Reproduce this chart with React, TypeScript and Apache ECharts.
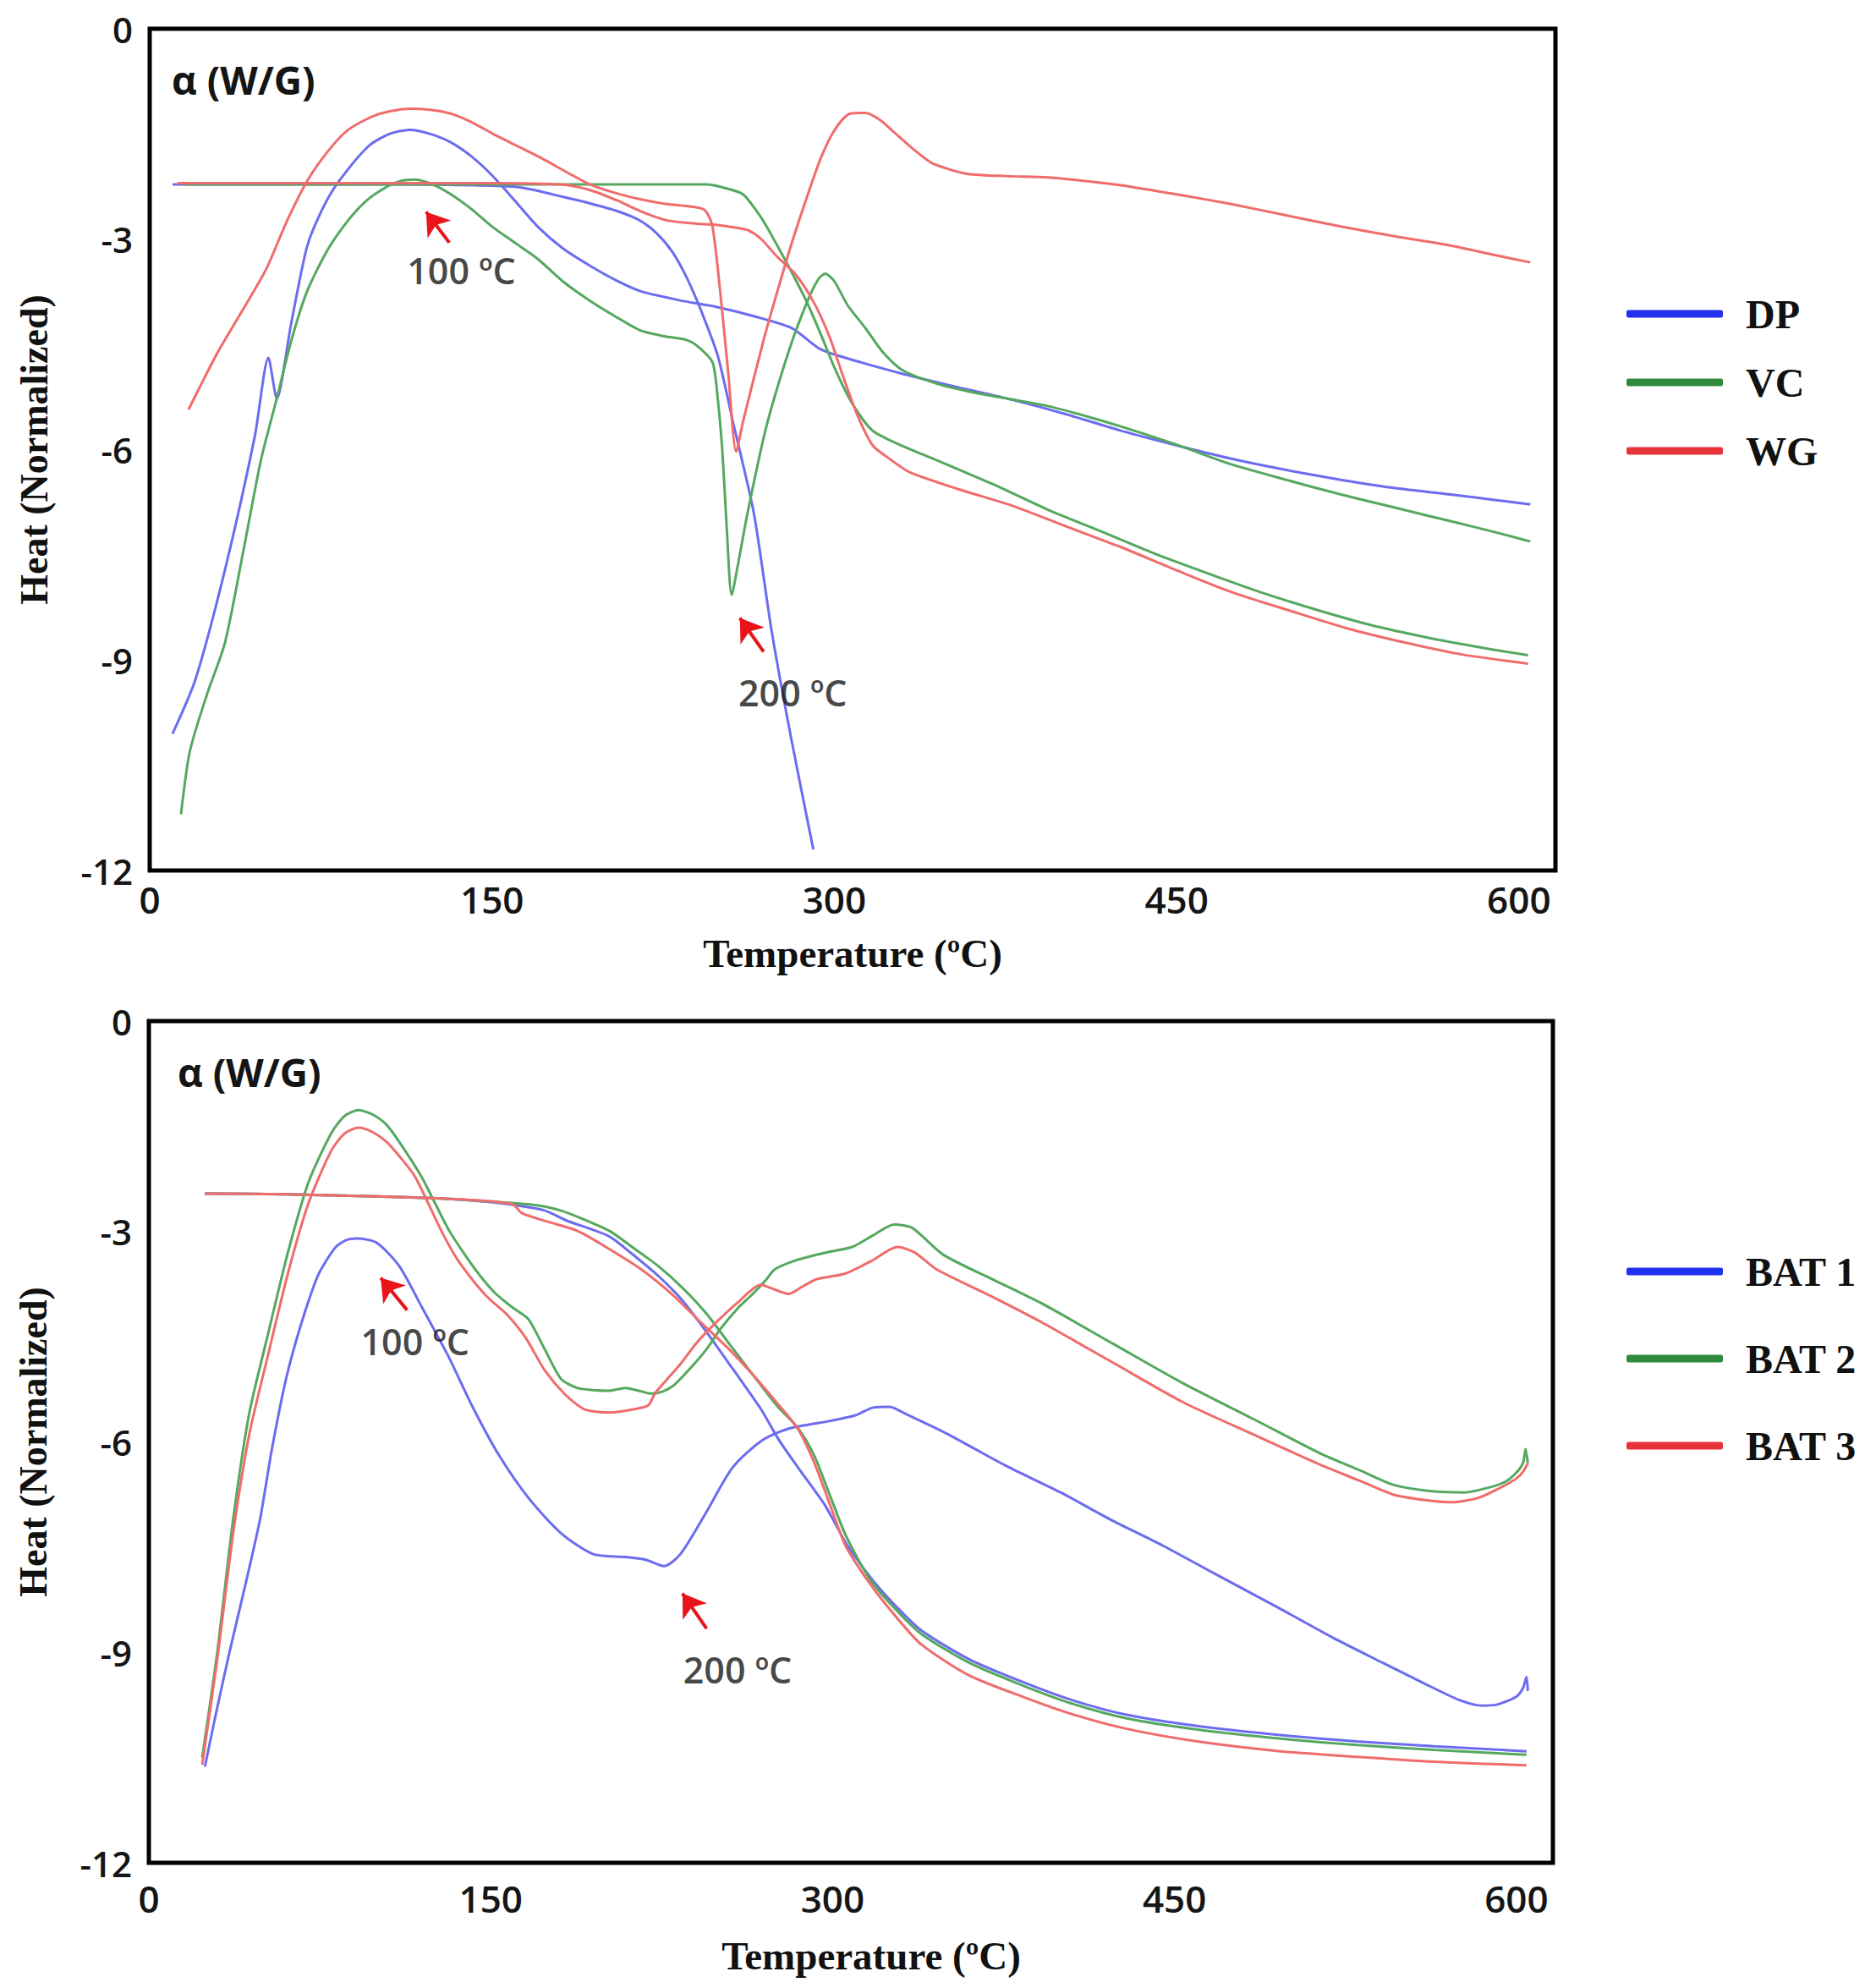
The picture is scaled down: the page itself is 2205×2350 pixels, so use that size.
import React, { useRef, useEffect } from 'react';
import * as echarts from 'echarts';

// ---- Top panel: DP / VC / WG (two traces each) ----
const LEGEND_TOP = ['DP', 'VC', 'WG'];

const DP_PEAK: number[][] = [
  [10, -10.05], [20, -9.28], [33, -7.71], [46, -5.82], [52, -4.69], [55.7, -5.27], [62, -4.2],
  [69, -3.1], [76, -2.55], [83, -2.17], [96, -1.67], [105, -1.5], [114, -1.44], [123, -1.5],
  [132, -1.62], [141, -1.82], [150, -2.09], [160, -2.45], [170, -2.82], [181, -3.13], [193, -3.38],
  [204, -3.58], [215, -3.74], [232, -3.87], [249, -3.97], [265, -4.1], [281.5, -4.27], [294, -4.57],
  [310, -4.74], [330, -4.92], [354, -5.11], [378, -5.29], [402, -5.5], [425.6, -5.73], [450, -5.94],
  [474, -6.13], [498, -6.29], [522, -6.43], [546, -6.55], [570, -6.64], [590, -6.72], [605, -6.78],
];
const DP_FLAT: number[][] = [
  [10, -2.22], [60, -2.22], [110, -2.22], [140, -2.23], [159, -2.25], [170, -2.31], [181.5, -2.4],
  [193, -2.49], [204, -2.59], [214, -2.72], [222, -2.91], [229, -3.18], [235.5, -3.56], [242, -4.05],
  [249, -4.67], [255.7, -5.62], [264.7, -6.9], [272.6, -8.6], [281, -10.1], [290.8, -11.7],
];
const VC_PEAK: number[][] = [
  [13.7, -11.2], [17.6, -10.3], [25, -9.5], [33, -8.75], [41, -7.45], [48.8, -6.14], [55.7, -5.27],
  [62, -4.45], [69, -3.74], [78, -3.15], [87, -2.73], [95, -2.45], [103, -2.27], [110, -2.17],
  [116, -2.15], [124, -2.22], [132, -2.36], [141, -2.57], [150, -2.82], [160, -3.05], [170, -3.28],
  [181, -3.6], [193, -3.88], [204, -4.1], [215, -4.3], [225, -4.38], [235.5, -4.44], [241, -4.55],
  [246.7, -4.76], [249, -5.3], [251, -6.05], [253, -7.2], [255, -8.07], [258, -7.6], [262, -6.9],
  [270, -5.7], [280, -4.6], [288, -3.9], [293, -3.57], [296, -3.49], [300, -3.6], [306, -3.95],
  [313.7, -4.27], [321, -4.6], [330, -4.87], [345, -5.06], [361.7, -5.19], [377, -5.28],
  [393.8, -5.38], [410, -5.52], [425.6, -5.67], [450, -5.93], [474, -6.21], [498, -6.43],
  [522, -6.64], [546, -6.83], [570, -7.02], [590, -7.18], [605, -7.31],
];
const VC_FLAT: number[][] = [
  [15, -2.22], [60, -2.22], [110, -2.22], [160, -2.22], [200, -2.22], [230, -2.22], [244, -2.22],
  [252, -2.27], [260, -2.36], [266, -2.6], [270, -2.8], [275, -3.09], [281, -3.45], [288, -3.9],
  [294, -4.35], [300.6, -4.87], [308, -5.35], [316.8, -5.73], [330, -5.95], [345.6, -6.16],
  [370, -6.5], [393.8, -6.86], [418, -7.18], [441.8, -7.5], [465, -7.78], [486.6, -8.03],
  [510, -8.27], [535, -8.5], [560, -8.68], [585, -8.83], [604, -8.93],
];
const WG_PEAK: number[][] = [
  [17, -5.43], [23, -5.04], [30, -4.6], [40, -4.05], [51, -3.43], [60, -2.75], [69, -2.17],
  [78, -1.75], [87, -1.44], [100, -1.22], [114, -1.14], [124, -1.16], [132, -1.21], [141, -1.33],
  [150, -1.49], [161, -1.67], [172, -1.85], [183, -2.05], [193, -2.22], [205, -2.35], [215, -2.43],
  [226.5, -2.5], [236, -2.53], [243, -2.58], [246.5, -2.8], [250, -3.75], [253.5, -4.9],
  [257, -6.03], [260, -5.6], [269, -4.44], [275, -3.75], [281.5, -3.04], [288, -2.4], [294, -1.85],
  [300, -1.45], [307, -1.21], [313.7, -1.2], [320, -1.3], [326, -1.47], [334, -1.7], [342.5, -1.91],
  [350, -2.0], [358.6, -2.07], [375, -2.1], [393.8, -2.12], [410, -2.17], [425.6, -2.23],
  [450, -2.36], [474, -2.5], [498, -2.66], [522, -2.82], [546, -2.96], [570, -3.09], [590, -3.23],
  [605, -3.33],
];
const WG_FLAT: number[][] = [
  [12, -2.2], [60, -2.2], [110, -2.2], [150, -2.2], [180, -2.22], [193, -2.3], [205, -2.45],
  [215, -2.6], [226.5, -2.73], [240, -2.78], [249.5, -2.8], [256, -2.83], [262, -2.87], [268, -3.0],
  [275, -3.25], [283, -3.5], [291, -3.9], [298, -4.4], [304, -4.97], [310, -5.5], [316.8, -5.94],
  [325, -6.15], [332.9, -6.32], [355, -6.57], [378, -6.8], [402, -7.1], [425.6, -7.39], [450, -7.72],
  [474, -8.03], [500, -8.3], [525, -8.55], [550, -8.75], [575, -8.92], [604, -9.05],
];

// ---- Bottom panel: BAT 1 / BAT 2 / BAT 3 ----
const LEGEND_BOTTOM = ['BAT 1', 'BAT 2', 'BAT 3'];

const BAT1_PEAK: number[][] = [
  [24.6, -10.63], [27, -10.25], [29, -9.94], [35, -9.05], [42.6, -8.0], [48.8, -7.1], [54, -6.1],
  [60.2, -5.1], [67, -4.3], [74.3, -3.62], [81.5, -3.24], [86, -3.13], [91.4, -3.1], [99.9, -3.16],
  [109.8, -3.49], [119.8, -4.08], [131.1, -4.76], [142.5, -5.53], [153.8, -6.2], [166.6, -6.8],
  [180.8, -7.3], [195, -7.6], [209, -7.64], [218, -7.68], [226, -7.77], [233.2, -7.6], [244.6, -7.0],
  [256, -6.37], [268.5, -5.99], [280.7, -5.81], [299, -5.7], [310, -5.62], [317.8, -5.51],
  [325, -5.5], [332, -5.6], [350, -5.88], [376, -6.34], [400, -6.72], [422.7, -7.12], [445, -7.48],
  [466, -7.85], [496.5, -8.38], [520, -8.8], [541.4, -9.15], [560, -9.45], [575, -9.68], [585, -9.76],
  [592, -9.74], [600, -9.63], [603, -9.5], [604.4, -9.35], [605, -9.55],
];
const BAT1_FLAT: number[][] = [
  [24.5, -2.46], [60, -2.47], [100, -2.5], [128.6, -2.53], [150, -2.58], [161.7, -2.63], [173.6, -2.7],
  [183, -2.84], [202, -3.07], [212, -3.32], [223.4, -3.63], [234, -3.98], [244.6, -4.43], [256, -4.95],
  [268.5, -5.53], [276, -5.95], [284.7, -6.36], [296.6, -6.9], [306, -7.45], [316.8, -7.94],
  [328, -8.35], [339, -8.69], [360, -9.1], [384, -9.43], [405, -9.68], [429, -9.89], [460, -10.05],
  [496.5, -10.18], [530, -10.27], [564, -10.34], [604.4, -10.41],
];
const BAT2_PEAK: number[][] = [
  [23.4, -10.5], [30, -9.0], [37, -7.1], [44, -5.6], [52, -4.5], [61, -3.3], [70, -2.3], [80, -1.6],
  [86, -1.35], [92, -1.27], [98, -1.33], [104, -1.47], [109.8, -1.72], [119.8, -2.23], [131.1, -2.95],
  [138, -3.3], [145.3, -3.63], [152, -3.88], [159.4, -4.08], [166.5, -4.25], [173.7, -4.68],
  [180.8, -5.1], [187.9, -5.23], [194.8, -5.26], [202, -5.27], [209, -5.23], [215, -5.27],
  [220.5, -5.31], [225.5, -5.28], [230.4, -5.19], [237, -4.97], [244.6, -4.68], [251, -4.38],
  [258.8, -4.08], [264, -3.92], [270.5, -3.7], [274.6, -3.54], [283, -3.42], [293, -3.33], [300, -3.28],
  [308.6, -3.22], [318, -3.05], [327, -2.9], [335, -2.95], [348.5, -3.33], [370, -3.68], [392, -4.03],
  [423, -4.6], [453.5, -5.16], [485, -5.68], [515, -6.18], [531, -6.4], [546, -6.61], [562, -6.7],
  [577, -6.72], [588, -6.65], [595.5, -6.56], [601, -6.4], [603, -6.29], [604, -6.1], [605, -6.3],
];
const BAT2_FLAT: number[][] = [
  [24.5, -2.46], [60, -2.47], [100, -2.5], [128.6, -2.53], [161.7, -2.6], [171, -2.63], [180.6, -2.7],
  [191, -2.83], [202, -2.99], [212, -3.22], [223.4, -3.49], [234, -3.8], [244.6, -4.17], [256, -4.66],
  [268.5, -5.19], [276, -5.5], [284.7, -5.8], [292, -6.2], [298.9, -6.77], [306, -7.35], [316.8, -7.98],
  [328, -8.4], [339, -8.74], [360, -9.15], [384, -9.48], [405, -9.73], [429, -9.94], [460, -10.1],
  [496.5, -10.23], [530, -10.32], [564, -10.39], [604.4, -10.46],
];
const BAT3_PEAK: number[][] = [
  [23.4, -10.6], [30, -9.1], [37, -7.3], [44, -5.9], [52, -4.8], [61, -3.6], [70, -2.6], [80, -1.85],
  [86, -1.6], [92, -1.52], [98, -1.58], [104.2, -1.72], [110, -1.93], [117, -2.23], [128.3, -2.99],
  [135, -3.38], [142.5, -3.71], [149, -3.95], [156.7, -4.17], [165.2, -4.51], [173.7, -4.98],
  [182.2, -5.31], [190.7, -5.53], [196, -5.57], [202, -5.58], [210, -5.55], [219, -5.48], [222, -5.31],
  [227, -5.12], [233.2, -4.89], [240, -4.6], [247.5, -4.34], [258.8, -4.0], [268.4, -3.76],
  [274, -3.82], [280.7, -3.89], [287, -3.78], [293, -3.68], [305.5, -3.6], [317, -3.42],
  [328.5, -3.22], [336, -3.3], [345.6, -3.54], [370, -3.93], [392, -4.3], [423, -4.87], [453.5, -5.43],
  [485, -5.9], [515, -6.34], [531, -6.55], [546, -6.75], [560, -6.83], [571, -6.86], [583, -6.8],
  [592.5, -6.66], [600, -6.52], [603, -6.42], [605, -6.3],
];
const BAT3_FLAT: number[][] = [
  [24.5, -2.46], [60, -2.47], [100, -2.5], [128.6, -2.53], [150, -2.57], [160, -2.62], [163.7, -2.74],
  [175, -2.86], [187.9, -2.99], [202, -3.25], [216, -3.54], [230.4, -3.92], [242, -4.29], [254, -4.66],
  [265.8, -5.07], [275, -5.42], [284.7, -5.81], [292, -6.3], [298.9, -6.9], [306, -7.5],
  [316.8, -8.04], [328, -8.5], [339, -8.89], [360, -9.33], [384, -9.64], [405, -9.88], [429, -10.09],
  [460, -10.27], [496.5, -10.41], [530, -10.49], [564, -10.56], [604.4, -10.61],
];

// annotations: [label, x, y] and arrows [tail, tip]
const TOP_NOTES: [string, number, number][] = [['100 ºC', 136.6, -3.44], ['200 ºC', 281.8, -9.46]];
const TOP_ARROWS: number[][][] = [[[131.3, -3.05], [121.1, -2.61]], [[269, -8.88], [258.6, -8.4]]];
const BOTTOM_NOTES: [string, number, number][] = [['100 ºC', 116.8, -4.56], ['200 ºC', 258.3, -9.24]];
const BOTTOM_ARROWS: number[][][] = [[[113.3, -4.12], [101.7, -3.66]], [[244.7, -8.66], [234.1, -8.16]]];

const LINE_COLORS = ['#6c6cf0', '#55a85f', '#f06c6c'];
const LEGEND_COLORS = ['#2030ee', '#2f8a3c', '#e8333a'];
const ARROW_RED = '#e8141a';
const SANS = '"Open Sans", "DejaVu Sans", sans-serif';
const SERIF = '"Liberation Serif", "Times New Roman", serif';

const curve = (name: string, data: number[][], color: string, idx: number): echarts.SeriesOption => ({
  type: 'line',
  name,
  data,
  xAxisIndex: idx,
  yAxisIndex: idx,
  symbol: 'none',
  smooth: 0.25,
  lineStyle: { width: 3, color },
  itemStyle: { color },
  z: 2,
});

const notes = (
  id: string,
  items: [string, number, number][],
  arrows: number[][][],
  idx: number,
): echarts.SeriesOption => ({
  type: 'scatter',
  name: id,
  xAxisIndex: idx,
  yAxisIndex: idx,
  symbolSize: 0,
  silent: true,
  z: 5,
  data: items.map(([text, x, y]) => ({ name: text, value: [x, y] })),
  label: {
    show: true,
    position: 'inside',
    formatter: '{b}',
    fontFamily: SANS,
    fontWeight: 600,
    fontSize: 43,
    color: '#151515',
  },
  markLine: {
    silent: true,
    symbol: ['none', 'arrow'],
    symbolSize: 26,
    label: { show: false },
    lineStyle: { color: ARROW_RED, width: 4, type: 'solid' },
    data: arrows.map(([a, b]) => [{ coord: a }, { coord: b }]) as any,
  },
});

const App: React.FC = () => {
  const chartRef = useRef<HTMLDivElement>(null);

  useEffect(() => {
    document.body.style.margin = '0';
    if (!chartRef.current) return;
    const chart = echarts.init(chartRef.current, null, { renderer: 'svg' });

    const xAxisBase = (gridIndex: number, margin: number, nameGap: number, shift: number) => ({
      type: 'value' as const,
      gridIndex,
      min: 0,
      max: 616,
      interval: 150,
      name: 'Temperature (ºC)',
      nameLocation: 'middle' as const,
      nameGap,
      nameTextStyle: {
        fontFamily: SERIF,
        fontWeight: 'bold' as const,
        fontSize: 47,
        color: '#111',
        padding: [0, 0, 0, shift],
      },
      axisLine: { show: false },
      axisTick: { show: false },
      splitLine: { show: false },
      axisLabel: {
        margin,
        fontFamily: SANS,
        fontWeight: 600,
        fontSize: 44,
        color: '#151515',
        formatter: (v: number) => (v % 150 === 0 ? String(v) : ''),
      },
    });

    const yAxisBase = (gridIndex: number) => ({
      type: 'value' as const,
      gridIndex,
      min: -12,
      max: 0,
      interval: 3,
      name: 'Heat (Normalized)',
      nameLocation: 'middle' as const,
      nameGap: 114,
      nameTextStyle: {
        fontFamily: SERIF,
        fontWeight: 'bold' as const,
        fontSize: 46,
        color: '#111',
      },
      axisLine: { show: false },
      axisTick: { show: false },
      splitLine: { show: false },
      axisLabel: { margin: 20, fontFamily: SANS, fontWeight: 600, fontSize: 42, color: '#151515' },
    });

    const legendBase = (names: string[], top: number, gap: number) => ({
      data: names.map((n, i) => ({ name: n, itemStyle: { color: LEGEND_COLORS[i] } })),
      orient: 'vertical' as const,
      left: 1918,
      top,
      icon: 'roundRect',
      itemWidth: 114,
      itemHeight: 9,
      itemGap: gap,
      selectedMode: false,
      textStyle: {
        fontFamily: SERIF,
        fontWeight: 'bold' as const,
        fontSize: 48,
        color: '#111',
        padding: [0, 0, 0, 22],
      },
    });

    const option: echarts.EChartsOption = {
      animation: false,
      backgroundColor: '#FFFFFF',
      grid: [
        { left: 177, top: 34, width: 1662, height: 995, show: true, borderColor: '#000', borderWidth: 5, backgroundColor: 'transparent' },
        { left: 176, top: 1207, width: 1660, height: 995, show: true, borderColor: '#000', borderWidth: 5, backgroundColor: 'transparent' },
      ],
      xAxis: [xAxisBase(0, 12, 74, 0), xAxisBase(1, 20, 86, 48)],
      yAxis: [yAxisBase(0), yAxisBase(1)],
      legend: [legendBase(LEGEND_TOP, 342, 33), legendBase(LEGEND_BOTTOM, 1474, 55)],
      graphic: [
        { type: 'text', left: 203, top: 71, style: { text: 'α (W/G)', fontFamily: SANS, fontWeight: 'bold', fontSize: 46, fill: '#151515' } },
        { type: 'text', left: 210, top: 1244, style: { text: 'α (W/G)', fontFamily: SANS, fontWeight: 'bold', fontSize: 46, fill: '#151515' } },
      ],
      series: [
        curve('DP', DP_PEAK, LINE_COLORS[0], 0),
        curve('DP', DP_FLAT, LINE_COLORS[0], 0),
        curve('VC', VC_PEAK, LINE_COLORS[1], 0),
        curve('VC', VC_FLAT, LINE_COLORS[1], 0),
        curve('WG', WG_PEAK, LINE_COLORS[2], 0),
        curve('WG', WG_FLAT, LINE_COLORS[2], 0),
        curve('BAT 1', BAT1_PEAK, LINE_COLORS[0], 1),
        curve('BAT 1', BAT1_FLAT, LINE_COLORS[0], 1),
        curve('BAT 2', BAT2_PEAK, LINE_COLORS[1], 1),
        curve('BAT 2', BAT2_FLAT, LINE_COLORS[1], 1),
        curve('BAT 3', BAT3_PEAK, LINE_COLORS[2], 1),
        curve('BAT 3', BAT3_FLAT, LINE_COLORS[2], 1),
        notes('notes-top', TOP_NOTES, TOP_ARROWS, 0),
        notes('notes-bottom', BOTTOM_NOTES, BOTTOM_ARROWS, 1),
      ],
    };

    chart.setOption(option);

    const handleResize = () => chart.resize();
    window.addEventListener('resize', handleResize);
    return () => {
      window.removeEventListener('resize', handleResize);
      chart.dispose();
    };
  }, []);

  return <div ref={chartRef} style={{ width: 2205, height: 2350 }} />;
};

export default App;
